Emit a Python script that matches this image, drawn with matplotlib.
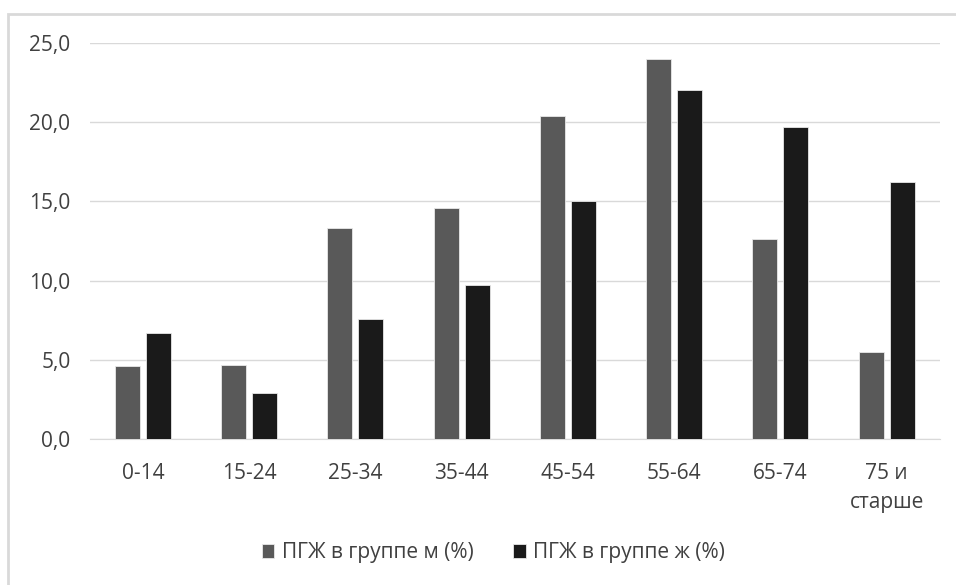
import numpy as np
import matplotlib
matplotlib.use("Agg")
import matplotlib.pyplot as plt
from matplotlib.patches import Rectangle
from matplotlib.ticker import FuncFormatter

# -----------------------------
# DATA
# -----------------------------
groups = ["0-14", "15-24", "25-34", "35-44", "45-54", "55-64", "65-74", "75 и\nстарше"]
male = [4.6, 4.7, 13.3, 14.6, 20.4, 24.0, 12.6, 5.5]
female = [6.7, 2.9, 7.6, 9.7, 15.0, 22.0, 19.7, 16.2]
label_m = "ПГЖ в группе м (%)"
label_f = "ПГЖ в группе ж (%)"
yticks = [0, 5, 10, 15, 20, 25]
# -----------------------------

plt.rcParams['font.family'] = ['Open Sans', 'DejaVu Sans']
txt_color = '#404040'

fig = plt.figure(figsize=(9.56, 5.85), dpi=100)
ax = fig.add_axes([0.094, 0.2496, 0.889, 0.677])

# outer chart border (cropped at right/bottom)
fig.patches.append(Rectangle((8 / 956, -0.05), 1.1, 1 - 14 / 585 + 0.05,
                             transform=fig.transFigure, fill=False,
                             edgecolor='#d9d9d9', linewidth=2))

x = np.arange(len(groups))
w = 0.235
off = 0.146
ax.bar(x - off, male, w, color='#595959', edgecolor='#e8e8e8', linewidth=0.6, label=label_m, zorder=3)
ax.bar(x + off, female, w, color='#1a1a1a', edgecolor='#e8e8e8', linewidth=0.6, label=label_f, zorder=3)

ax.set_xlim(-0.5, len(groups) - 0.5)
ax.set_ylim(0, 25)
ax.set_yticks(yticks)
ax.yaxis.set_major_formatter(FuncFormatter(lambda v, p: f"{v:.1f}".replace('.', ',')))
ax.set_xticks(x)
ax.set_xticklabels(groups, linespacing=1.5)
ax.grid(axis='y', color='#d9d9d9', linewidth=1, zorder=0)
for s in ['top', 'right', 'left']:
    ax.spines[s].set_visible(False)
ax.spines['bottom'].set_color('#d9d9d9')
ax.tick_params(axis='both', length=0, labelsize=15, colors=txt_color)
ax.tick_params(axis='y', pad=14)
ax.tick_params(axis='x', pad=17)

fig.legend(loc='center', bbox_to_anchor=(0.516, 0.055), ncol=2, frameon=False,
           fontsize=15, handlelength=0.6, handleheight=0.6, handletextpad=0.35,
           columnspacing=1.9, labelcolor=txt_color)

fig.savefig("out.png", dpi=100)
